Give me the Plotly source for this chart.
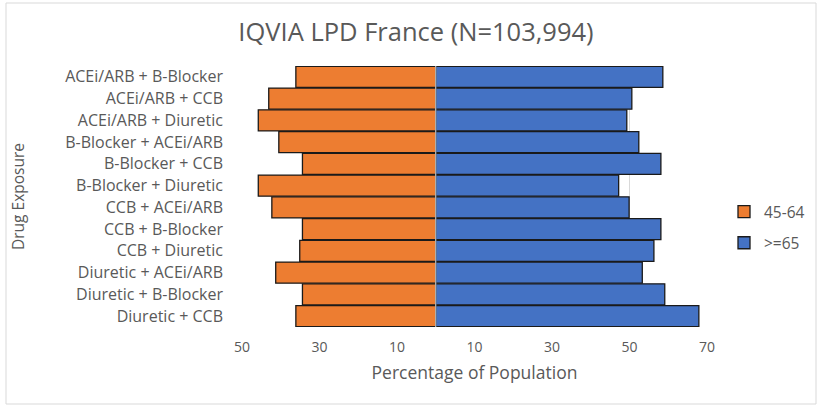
import plotly.graph_objects as go

drugs = [
    "ACEi/ARB + B-Blocker",
    "ACEi/ARB + CCB",
    "ACEi/ARB + Diuretic",
    "B-Blocker + ACEi/ARB",
    "B-Blocker + CCB",
    "B-Blocker + Diuretic",
    "CCB + ACEi/ARB",
    "CCB + B-Blocker",
    "CCB + Diuretic",
    "Diuretic + ACEi/ARB",
    "Diuretic + B-Blocker",
    "Diuretic + CCB",
]
age_45_64 = [36.1, 43.1, 45.8, 40.5, 34.4, 45.8, 42.3, 34.4, 35.1, 41.3, 34.4, 36.1]
age_65_plus = [58.6, 50.6, 49.3, 52.4, 58.1, 47.2, 49.9, 58.1, 56.3, 53.3, 59.1, 67.9]

tick_vals = [-50, -30, -10, 10, 30, 50, 70]
tick_text = ["50", "30", "10", "10", "30", "50", "70"]

grey = "#595959"
font = "Open Sans"

fig = go.Figure()
fig.add_trace(go.Bar(
    y=drugs, x=[-v for v in age_45_64], orientation="h", name="45-64",
    marker=dict(color="#ED7D31", line=dict(color="#1a1a1a", width=1.3)),
    legendgroup="a", hoverinfo="skip",
))
fig.add_trace(go.Bar(
    y=drugs, x=age_65_plus, orientation="h", name=">=65",
    marker=dict(color="#4472C4", line=dict(color="#1a1a1a", width=1.3)),
    legendgroup="b", hoverinfo="skip",
))

# plot area: left 242, width 465, top 66, height 261
L, W, T, H = 242, 465, 66, 261


def px_x(p):
    return (p - L) / W


def px_y(p):
    return (T + H - p) / H


fig.update_layout(
    width=817, height=406,
    margin=dict(l=L, r=817 - L - W, t=T, b=406 - T - H, autoexpand=False),
    paper_bgcolor="white", plot_bgcolor="white",
    barmode="relative", bargap=0.03,
    font=dict(family=font, size=15.5, color=grey),
    title=dict(text="IQVIA LPD France (N=103,994)", x=416 / 817, xanchor="center",
               y=1 - 32 / 406, yanchor="middle",
               font=dict(family=font, size=25.5, color=grey)),
    xaxis=dict(range=[-50, 70], tickvals=tick_vals, ticktext=tick_text,
               showgrid=True, gridcolor="#d9d9d9", gridwidth=1, zeroline=False,
               ticks="", tickfont=dict(size=14, color=grey), ticklabelstandoff=10,
               title=dict(text="Percentage of Population", font=dict(size=17.5, color=grey),
                          standoff=11)),
    yaxis=dict(autorange="reversed", showgrid=False, ticks="",
               tickfont=dict(size=16, color=grey), ticklabelstandoff=18),
    legend=dict(x=px_x(724), y=px_y(195), xanchor="left", yanchor="top",
                font=dict(size=15.5, color=grey), tracegroupgap=8,
                traceorder="grouped", itemwidth=30),
    showlegend=True,
    shapes=[
        dict(type="line", xref="x", yref="paper", x0=0, x1=0, y0=0, y1=1,
             line=dict(color="#e0e0e0", width=1), layer="above"),
        dict(type="rect", xref="paper", yref="paper",
             x0=px_x(6), x1=px_x(816), y0=px_y(404), y1=px_y(3),
             line=dict(color="#d9d9d9", width=1), layer="below"),
    ],
    annotations=[
        dict(text="Drug Exposure", textangle=-90, xref="paper", yref="paper",
             x=px_x(18), y=px_y(197), xanchor="center", yanchor="middle",
             showarrow=False, font=dict(size=15.5, color=grey)),
    ],
)

# the page's default body margin would shift the figure by 8px
fig.write_html("out.html", config={"displayModeBar": False},
               post_script="document.body.style.margin = '0';")
